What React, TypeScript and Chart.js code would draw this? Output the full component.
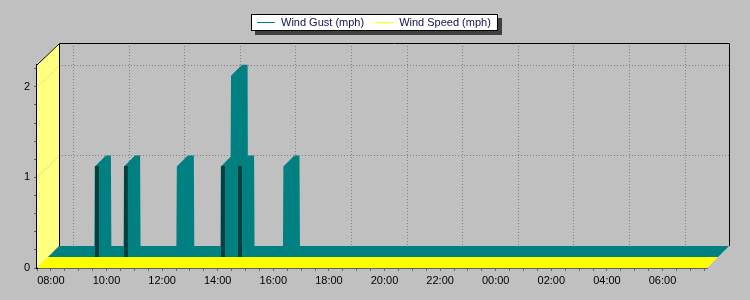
import React, { useEffect, useRef } from 'react';
import { Chart, registerables } from 'chart.js';

Chart.register(...registerables);

// ---- data (times, HH:MM, running over midnight) ----
const gustTimes = [
  '07:30',
  '09:10', '09:11', '09:22', '09:23',
  '10:13', '10:14', '10:25', '10:26',
  '12:07', '12:08', '12:21', '12:22',
  '13:42', '13:43', '14:04', '14:05', '14:17', '14:18', '14:19', '14:20', '14:31', '14:32',
  '15:57', '15:58', '16:09', '16:10',
  '07:36',
];
const gustValues = [
  0,
  0, 1, 1, 0,
  0, 1, 1, 0,
  0, 1, 1, 0,
  0, 1, 1, 2, 2, 0, 0, 1, 1, 0,
  0, 1, 1, 0,
  0,
];
const gustShadedRises = ['09:11', '10:14', '13:43', '14:20'];

// wind speed logged at the same instants, always 0
const speedTimes = gustTimes;
const speedValues = [
  0,
  0, 0, 0, 0,
  0, 0, 0, 0,
  0, 0, 0, 0,
  0, 0, 0, 0, 0, 0, 0, 0, 0, 0,
  0, 0, 0, 0,
  0,
];

const seriesLabels = ['Wind Gust (mph)', 'Wind Speed (mph)'];
const seriesColors = ['#008080', '#FFFF00'];

const yMax = 2.24;
const yMinorStep = 0.2;
const xMinorStep = 30; // minutes
const xLabelStep = 120; // minutes

const FONT = '"Liberation Sans", Arial, sans-serif';
const DEPTH = 22;

function toMinutes(list: string[]): number[] {
  const out: number[] = [];
  let day = 0;
  let prev = -Infinity;
  for (const s of list) {
    const [h, m] = s.split(':').map(Number);
    let v = h * 60 + m + day;
    if (v < prev) {
      day += 1440;
      v += 1440;
    }
    out.push(v);
    prev = v;
  }
  return out;
}

function fmt(v: number): string {
  const h = Math.floor(v / 60) % 24;
  const m = Math.round(v % 60);
  return String(h).padStart(2, '0') + ':' + String(m).padStart(2, '0');
}

type P = { x: number; y: number };

function signedArea(poly: P[]): number {
  let s = 0;
  for (let i = 0; i < poly.length; i++) {
    const a = poly[i];
    const b = poly[(i + 1) % poly.length];
    s += a.x * b.y - b.x * a.y;
  }
  return s / 2;
}

const threeD = {
  id: 'threeD',
  beforeDraw(chart: any) {
    const ctx = chart.ctx;
    ctx.save();
    ctx.fillStyle = '#C0C0C0';
    ctx.fillRect(0, 0, chart.width, chart.height);
    ctx.restore();
  },
  beforeDatasetsDraw(chart: any) {
    const { ctx, chartArea: a, scales } = chart;
    const xs = scales.x;
    const ys = scales.y;
    const L = a.left, R = a.right, T = a.top, B = a.bottom, D = DEPTH;
    ctx.save();

    // left wall
    ctx.fillStyle = '#FFFF80';
    ctx.beginPath();
    ctx.moveTo(L, T);
    ctx.lineTo(L + D, T - D);
    ctx.lineTo(L + D, B - D);
    ctx.lineTo(L, B);
    ctx.closePath();
    ctx.fill();

    // grid lines (dotted) on back wall + left wall
    ctx.lineWidth = 1;
    ctx.setLineDash([1, 2]);
    for (const t of ys.ticks) {
      const v = t.value;
      if (v <= 0 || Math.abs(v - Math.round(v)) > 1e-6) continue;
      const py = Math.round(ys.getPixelForValue(v) - D) + 0.5;
      ctx.strokeStyle = '#808080';
      ctx.beginPath();
      ctx.moveTo(L + D, py);
      ctx.lineTo(R + D, py);
      ctx.stroke();
      ctx.strokeStyle = '#B0B070';
      ctx.beginPath();
      ctx.moveTo(L, py + D);
      ctx.lineTo(L + D, py);
      ctx.stroke();
    }
    ctx.strokeStyle = '#808080';
    for (const t of xs.ticks) {
      if (Math.round(t.value) % xLabelStep !== 0) continue;
      const px = Math.round(xs.getPixelForValue(t.value) + D) + 0.5;
      ctx.beginPath();
      ctx.moveTo(px, T - D);
      ctx.lineTo(px, B - D);
      ctx.stroke();
    }
    ctx.setLineDash([]);

    // walls edges
    ctx.strokeStyle = '#000000';
    ctx.beginPath();
    ctx.moveTo(L, T);
    ctx.lineTo(L + D + 0.5, T - D + 0.5);
    ctx.lineTo(R + D + 0.5, T - D + 0.5);
    ctx.lineTo(R + D + 0.5, B - D);
    ctx.moveTo(L + D + 0.5, T - D + 0.5);
    ctx.lineTo(L + D + 0.5, B - D);
    ctx.stroke();

    // series as 3D ribbons
    const n = chart.data.datasets.length;
    const y0 = ys.getPixelForValue(0);
    chart.data.datasets.forEach((ds: any, i: number) => {
      const meta = chart.getDatasetMeta(i);
      const pts: P[] = meta.data.map((p: any) => ({ x: p.x, y: p.y }));
      if (!pts.length) return;
      const kb = (D * (n - i)) / n;
      const kf = (D * (n - i - 1)) / n;
      const sh = (p: P, k: number): P => ({ x: p.x + k, y: p.y - k });
      const last = pts[pts.length - 1];
      const area = (k: number): P[] => [
        { x: pts[0].x + k, y: y0 - k },
        ...pts.map((p) => sh(p, k)),
        { x: last.x + k, y: y0 - k },
      ];
      const polys: P[][] = [];
      polys.push(area(kb));
      for (let j = 0; j < pts.length - 1; j++) {
        polys.push([sh(pts[j], kf), sh(pts[j + 1], kf), sh(pts[j + 1], kb), sh(pts[j], kb)]);
      }
      const base = { x: last.x, y: y0 };
      polys.push([sh(last, kf), sh(base, kf), sh(base, kb), sh(last, kb)]);
      polys.push(area(kf));

      ctx.beginPath();
      for (let poly of polys) {
        const s = signedArea(poly);
        if (Math.abs(s) < 1e-3) continue;
        if (s < 0) poly = poly.slice().reverse();
        ctx.moveTo(poly[0].x, poly[0].y);
        for (let q = 1; q < poly.length; q++) ctx.lineTo(poly[q].x, poly[q].y);
        ctx.closePath();
      }
      ctx.fillStyle = ds.backgroundColor;
      ctx.fill('nonzero');

      // darker rising faces
      if (ds.shadedRises) {
        ctx.fillStyle = '#004040';
        for (const t of ds.shadedRises as number[]) {
          const idx = ds.data.findIndex((d: any) => d.x === t);
          if (idx < 0) continue;
          const v = ds.data[idx].y;
          const px = xs.getPixelForValue(t) + kf;
          const top = ys.getPixelForValue(v) - kf;
          const bot = y0 - kf;
          ctx.fillRect(Math.round(px), Math.round(top), 4, Math.round(bot - top));
        }
      }
    });
    ctx.restore();
  },
  afterDraw(chart: any) {
    const ctx = chart.ctx;
    ctx.save();
    ctx.font = '11px ' + FONT;
    const items = chart.data.datasets.map((d: any) => ({ label: d.label as string, color: d.borderColor as string }));
    const lineLen = 18, gap = 6, itemGap = 11, pad = 6;
    const widths = items.map((it: any) => ctx.measureText(it.label).width);
    let total = pad * 2 + itemGap * (items.length - 1);
    widths.forEach((w: number) => (total += lineLen + gap + w));
    total = Math.round(total);
    const bx = Math.round(chart.width / 2 - 1 - total / 2);
    const by = 14;
    const bh = 16;
    ctx.fillStyle = '#404040';
    ctx.fillRect(bx + 4, by + 4, total + 1, bh + 1);
    ctx.fillStyle = '#FFFFFF';
    ctx.fillRect(bx, by, total, bh);
    ctx.strokeStyle = '#000000';
    ctx.lineWidth = 1;
    ctx.strokeRect(bx + 0.5, by + 0.5, total, bh);
    let x = bx + pad;
    const cy = by + bh / 2 + 0.5;
    items.forEach((it: any, i: number) => {
      ctx.strokeStyle = it.color;
      ctx.beginPath();
      ctx.moveTo(x, cy);
      ctx.lineTo(x + lineLen, cy);
      ctx.stroke();
      x += lineLen + gap;
      ctx.fillStyle = '#101050';
      ctx.textBaseline = 'middle';
      ctx.fillText(it.label, x, cy);
      x += widths[i] + itemGap;
    });
    ctx.restore();
  },
};

export default function App() {
  const ref = useRef<HTMLCanvasElement>(null);
  useEffect(() => {
    const gx = toMinutes(gustTimes);
    const sx = toMinutes(speedTimes);
    const shaded = toMinutes(gustShadedRises);
    const xMin = Math.min(gx[0], sx[0]);
    const xMax = Math.max(gx[gx.length - 1], sx[sx.length - 1]);
    const chart = new Chart(ref.current as HTMLCanvasElement, {
      type: 'line',
      data: {
        datasets: [
          {
            label: seriesLabels[0],
            data: gx.map((x, i) => ({ x, y: gustValues[i] })),
            borderColor: seriesColors[0],
            backgroundColor: seriesColors[0],
            showLine: false,
            pointRadius: 0,
            shadedRises: shaded,
          } as any,
          {
            label: seriesLabels[1],
            data: sx.map((x, i) => ({ x, y: speedValues[i] })),
            borderColor: seriesColors[1],
            backgroundColor: seriesColors[1],
            showLine: false,
            pointRadius: 0,
          } as any,
        ],
      },
      options: {
        responsive: false,
        animation: false,
        events: [],
        layout: { padding: { top: 65, right: 43, left: 0, bottom: 0 } },
        plugins: { legend: { display: false }, tooltip: { enabled: false } },
        scales: {
          x: {
            type: 'linear',
            min: xMin,
            max: xMax,
            z: 1,
            afterFit: (s: any) => {
              s.height = 32;
            },
            ticks: {
              stepSize: xMinorStep,
              includeBounds: false,
              autoSkip: false,
              maxRotation: 0,
              padding: 3,
              color: '#000000',
              font: { family: FONT, size: 11 },
              callback: (v: any) => (Math.round(v) % xLabelStep === 0 ? fmt(Number(v)) : ''),
            },
            grid: { drawOnChartArea: false, drawTicks: true, tickLength: 3, color: '#606060' },
            border: { display: true, color: '#606060', width: 1 },
          },
          y: {
            type: 'linear',
            min: 0,
            max: yMax,
            z: 1,
            afterFit: (s: any) => {
              s.width = 37;
            },
            ticks: {
              stepSize: yMinorStep,
              includeBounds: false,
              autoSkip: false,
              padding: 4,
              color: '#000000',
              font: { family: FONT, size: 11 },
              callback: (v: any) => (Math.abs(v - Math.round(v)) < 1e-6 ? String(Math.round(v)) : ''),
            },
            grid: { drawOnChartArea: false, drawTicks: true, tickLength: 3, color: '#606060' },
            border: { display: true, color: '#000000', width: 2 },
          },
        },
      } as any,
      plugins: [threeD],
    });
    return () => chart.destroy();
  }, []);
  return (
    <div style={{ position: 'fixed', left: 0, top: 0, width: 750, height: 300, background: '#C0C0C0' }}>
      <canvas ref={ref} width={750} height={300} style={{ display: 'block' }} />
    </div>
  );
}
